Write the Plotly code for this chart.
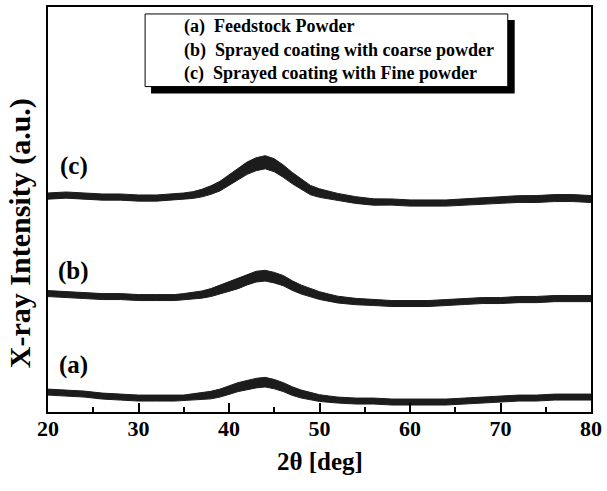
import plotly.graph_objects as go

two_theta = [20, 22, 24, 26, 28, 30, 32, 34, 35, 36, 37, 38, 39, 40, 41, 42, 43, 44, 45, 46,
             47, 48, 49, 50, 51, 52, 54, 56, 58, 60, 62, 64, 66, 68, 70, 72, 74, 76, 78, 80]

# stacked intensities (a.u., offset per pattern), band centre
int_a = [20, 19, 18, 16, 15, 14, 14, 14, 14, 15, 16, 17, 19, 22, 25, 27, 29, 30, 28, 25,
         21, 18, 16, 14, 13, 12, 11, 11, 10, 10, 10, 10, 11, 12, 13, 14, 14, 15, 15, 15]
int_b = [119, 118, 117, 116, 116, 115, 115, 115, 116, 117, 118, 120, 123, 126, 129, 133, 136, 137, 135, 132,
         127, 123, 120, 117, 115, 113, 111, 110, 109, 109, 109, 110, 111, 112, 112, 113, 113, 114, 114, 114]
int_c = [217, 218, 217, 216, 216, 215, 215, 216, 217, 218, 220, 223, 227, 233, 239, 245, 249, 251, 248, 242,
         235, 229, 223, 220, 218, 216, 213, 211, 211, 210, 210, 210, 211, 212, 213, 214, 214, 215, 215, 214]

# half-thickness of the noisy band (a.u.)
noise_a = [3, 3, 3, 3, 3, 3, 3, 3, 3, 3.3, 3.5, 3.8, 4, 4.3, 4.5, 4.7, 4.8, 4.8, 4.7, 4.5,
           4.3, 4, 3.7, 3.4, 3.2, 3, 3, 3, 3, 3, 3, 3, 3, 3, 3, 3, 3, 3, 3, 3]
noise_b = [3, 3, 3, 3, 3, 3, 3, 3, 3, 3.3, 3.6, 4, 4.4, 4.8, 5.1, 5.3, 5.4, 5.4, 5.3, 5.1,
           4.8, 4.5, 4.2, 3.9, 3.6, 3.4, 3.2, 3, 3, 3, 3, 3, 3, 3, 3, 3.1, 3.1, 3.1, 3.1, 3.1]
noise_c = [3.1, 3.1, 3.1, 3.1, 3.1, 3.1, 3.1, 3.1, 3.1, 3.4, 3.8, 4.3, 4.8, 5.3, 5.8, 6.2, 6.5, 6.6, 6.5, 6.2,
           5.7, 5.2, 4.7, 4.3, 4, 3.7, 3.4, 3.2, 3.1, 3.1, 3.1, 3.1, 3.2, 3.3, 3.4, 3.4, 3.5, 3.5, 3.5, 3.5]

labels = ["(a)", "(b)", "(c)"]
legend_lines = ["(a)  Feedstock Powder",
                "(b)  Sprayed coating with coarse powder",
                "(c)  Sprayed coating with Fine powder"]

W, H = 607, 491
ML, MR, MT, MB = 48, 11, 5, 79
PW, PH = W - ML - MR, H - MT - MB
FONT = "Liberation Serif"
INK = "#1c1c1c"


def px(x):
    return (x - ML) / PW


def py(y):
    return (H - MB - y) / PH


fig = go.Figure()
for centre, noise in [(int_a, noise_a), (int_b, noise_b), (int_c, noise_c)]:
    upper = [c + n for c, n in zip(centre, noise)]
    lower = [c - n for c, n in zip(centre, noise)]
    fig.add_trace(go.Scatter(
        x=two_theta + two_theta[::-1], y=upper + lower[::-1],
        mode="lines", fill="toself", fillcolor=INK,
        line=dict(color=INK, width=1), hoverinfo="skip", showlegend=False))

shapes = [
    dict(type="rect", xref="paper", yref="paper", x0=px(152), x1=px(519), y0=py(92), y1=py(18),
         fillcolor="black", line=dict(width=0), layer="above"),
    dict(type="rect", xref="paper", yref="paper", x0=px(146), x1=px(512), y0=py(85), y1=py(12),
         fillcolor="white", line=dict(color="black", width=1), layer="above"),
]

annotations = []
for txt, yy in zip(legend_lines, [25, 49, 72]):
    annotations.append(dict(text=txt, xref="paper", yref="paper", x=px(183), y=py(yy),
                            xanchor="left", yanchor="middle", showarrow=False,
                            font=dict(family=FONT, size=18, color="black", weight="bold")))
for txt, yy in zip(labels, [365, 270, 165]):
    annotations.append(dict(text=txt, xref="paper", yref="paper", x=px(74), y=py(yy),
                            xanchor="center", yanchor="middle", showarrow=False,
                            font=dict(family=FONT, size=25, color="black", weight="bold")))
annotations.append(dict(text="X-ray Intensity (a.u.)", xref="paper", yref="paper",
                        x=px(20), y=py(232), textangle=-90, xanchor="center", yanchor="middle",
                        showarrow=False, font=dict(family=FONT, size=30, color="black", weight="bold")))
annotations.append(dict(text="2θ [deg]", xref="paper", yref="paper",
                        x=px(322), y=py(462), xanchor="center", yanchor="middle",
                        showarrow=False, font=dict(family=FONT, size=25, color="black", weight="bold")))

fig.update_layout(
    width=W, height=H, margin=dict(l=ML, r=MR, t=MT, b=MB),
    paper_bgcolor="white", plot_bgcolor="white",
    shapes=shapes, annotations=annotations,
    xaxis=dict(range=[20, 80], showline=True, mirror=True, linecolor="black", linewidth=2,
               ticks="inside", tick0=20, dtick=10, ticklen=9, tickwidth=1.5, tickcolor="black",
               minor=dict(ticks="inside", dtick=5, ticklen=5, tickwidth=1.5, tickcolor="black"),
               showgrid=False, zeroline=False, ticklabelstandoff=-4,
               tickfont=dict(family=FONT, size=22, color="black", weight="bold")),
    yaxis=dict(range=[0, PH], showline=True, mirror=True, linecolor="black", linewidth=2,
               ticks="", showticklabels=False, showgrid=False, zeroline=False),
)

fig.write_html("out.html", config={"displayModeBar": False},
               post_script="document.body.style.margin='0';document.body.style.padding='0';")
